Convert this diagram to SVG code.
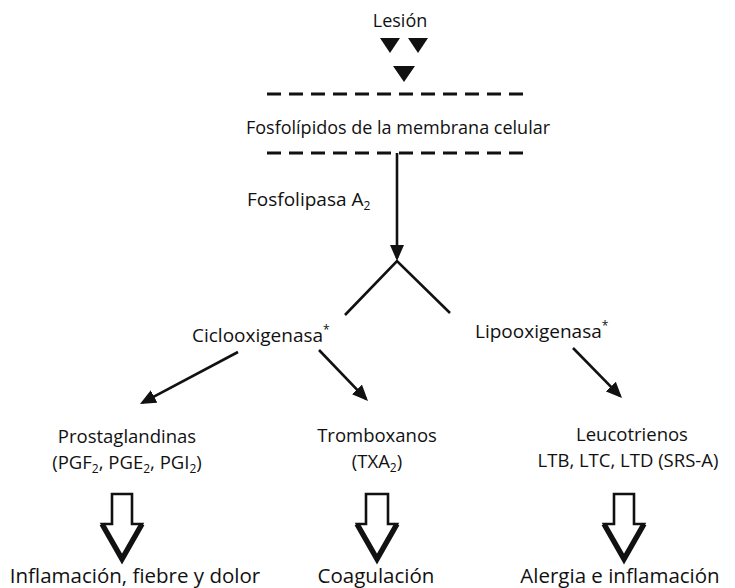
<svg xmlns="http://www.w3.org/2000/svg" width="735" height="588" viewBox="0 0 735 588">
<style>
text{font-family:"Open Sans","Noto Sans","DejaVu Sans",sans-serif;font-size:19px;fill:#111}
.m{text-anchor:middle}
.sub{font-size:12px}
.pr{font-size:18.5px}
.ln{stroke:#111;stroke-width:2.6;fill:none}
.dash{stroke:#111;stroke-width:3;stroke-dasharray:14 8;fill:none}
.ha{fill:#fff;stroke:#111;stroke-width:2.6;stroke-linejoin:miter}
.hv{fill:none;stroke:#111;stroke-width:5.5;stroke-linejoin:miter}
.tri{fill:#111}
.big{font-size:20.5px}
</style>
<defs>
<marker id="ah" viewBox="0 0 16 14" markerWidth="16" markerHeight="14" refX="13" refY="7" orient="auto" markerUnits="userSpaceOnUse">
<path d="M0,0 L16,7 L0,14 Z" fill="#111"/>
</marker>
</defs>
<rect width="735" height="588" fill="#fff"/>
<g id="lesion">
<text class="m" x="400" y="27" style="font-size:18px">Lesión</text>
<polygon class="tri" points="380,38 400,38 390,53"/>
<polygon class="tri" points="408,38 428,38 418,53"/>
<polygon class="tri" points="393,66 415,66 404,82"/>
</g>
<g id="membrana">
<line class="dash" x1="267" y1="94" x2="523" y2="94"/>
<text class="m" x="398" y="134" style="font-size:18px">Fosfolípidos de la membrana celular</text>
<line class="dash" x1="267" y1="153" x2="523" y2="153"/>
</g>
<g id="fosfolipasa">
<text x="247" y="206">Fosfolipasa A<tspan class="sub" dy="4">2</tspan></text>
</g>
<g id="ciclooxigenasa">
<text x="192" y="342">Ciclooxigenasa<tspan class="sub" dy="-8">*</tspan></text>
</g>
<g id="lipooxigenasa">
<text x="475" y="338">Lipooxigenasa<tspan class="sub" dy="-8">*</tspan></text>
</g>
<g id="prostaglandinas">
<text class="m pr" x="127" y="443">Prostaglandinas</text>
<text class="m pr" x="127" y="469">(PGF<tspan class="sub" dy="4">2</tspan><tspan dy="-4">, PGE</tspan><tspan class="sub" dy="4">2</tspan><tspan dy="-4">, PGI</tspan><tspan class="sub" dy="4">2</tspan><tspan dy="-4">)</tspan></text>
</g>
<g id="tromboxanos">
<text class="m pr" x="377" y="442">Tromboxanos</text>
<text class="m pr" x="377" y="468">(TXA<tspan class="sub" dy="4">2</tspan><tspan dy="-4">)</tspan></text>
</g>
<g id="leucotrienos">
<text class="m pr" x="632" y="441">Leucotrienos</text>
<text class="m pr" x="628" y="467">LTB, LTC, LTD (SRS-A)</text>
</g>
<g id="efecto1">
<text class="m big" x="135" y="583">Inflamación, fiebre y dolor</text>
</g>
<g id="efecto2">
<text class="m big" x="376" y="583">Coagulación</text>
</g>
<g id="efecto3">
<text class="m big" x="620" y="583">Alergia e inflamación</text>
</g>
<g id="connectors">
<line class="ln" x1="397" y1="153" x2="397" y2="258" marker-end="url(#ah)"/>
<polyline class="ln" points="345,315 397,261 450,313"/>
<line class="ln" x1="238" y1="352" x2="142.6" y2="402.6" marker-end="url(#ah)"/>
<line class="ln" x1="319" y1="350" x2="365.9" y2="398.8" marker-end="url(#ah)"/>
<line class="ln" x1="573" y1="348" x2="619.9" y2="395.9" marker-end="url(#ah)"/>
<path class="ha" d="M112,494 L132,494 L132,524 L142,524 L122,559 L102,524 L112,524 Z"/>
<polyline class="hv" points="102,524 122,559 142,524"/>
<path class="ha" d="M366,494 L388,494 L388,524 L397,524 L377,559 L357,524 L366,524 Z"/>
<polyline class="hv" points="357,524 377,559 397,524"/>
<path class="ha" d="M614,494 L634,494 L634,524 L644,524 L624,559 L604,524 L614,524 Z"/>
<polyline class="hv" points="604,524 624,559 644,524"/>
</g>
</svg>
